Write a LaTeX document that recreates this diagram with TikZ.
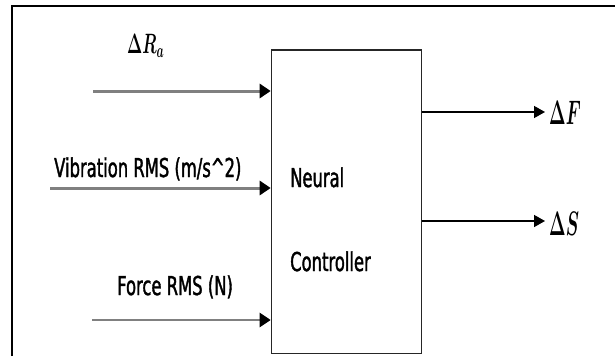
\RequirePackage{fix-cm}
\documentclass[tikz,border=0pt]{standalone}
\usepackage{amsmath}
\usepackage{fontspec}
\usepackage{graphicx}
\setmainfont{DejaVu Sans}[FakeStretch=0.63, FakeBold=1.4]
\usetikzlibrary{arrows.meta}

\begin{document}
\begin{tikzpicture}[
  x=1pt, y=-1pt,
  every node/.style={font=\fontsize{26}{28}\selectfont},
  block/.style={draw=black!85, line width=1.6pt, minimum width=150pt, minimum height=303.5pt, inner sep=0pt},
  inarrow/.style={draw=black!50, line width=3pt, -{Triangle[length=11pt,width=14pt,color=black]}},
  outarrow/.style={draw, line width=1.5pt, -{Triangle[length=11pt,width=12pt]}},
  lbl/.style={inner sep=0pt, anchor=base west}
]
\useasboundingbox (0,0) rectangle (615,356);
\draw[line width=1.2pt] (12,356) -- (12,6) -- (615,6);

\node[block] (nc) at (346.5,201.75) {};
\node[lbl] (neural) at (290,187) {Neural};
\node[lbl] (ctrl)   at (290,271) {Controller};

% inputs
\coordinate (in1) at (93,91);
\coordinate (in2) at (50,188);
\coordinate (in3) at (92,320);
\draw[inarrow] (in1) -- (in1 -| nc.west);
\draw[inarrow] (in2) -- (in2 -| nc.west);
\draw[inarrow, line width=2.5pt] (in3) -- (in3 -| nc.west);
\node[lbl, font=\fontsize{28}{30}\selectfont] (dra) at (127,53) {\scalebox{0.58}[1]{$\boldsymbol{\Delta R_a}$}};
\node[lbl] (vib)   at (54,177)  {Vibration RMS (m/s\^{}2)};
\node[lbl] (force) at (117,295) {Force RMS (N)};

% outputs
\coordinate (out1) at (545,112);
\coordinate (out2) at (545,221);
\draw[outarrow] (out1 -| nc.east) -- (out1);
\draw[outarrow] (out2 -| nc.east) -- (out2);
\node[lbl, font=\fontsize{34}{36}\selectfont] (df) at (549,124) {\scalebox{0.52}[1]{$\boldsymbol{\Delta F}$}};
\node[lbl, font=\fontsize{34}{36}\selectfont] (ds) at (549,235) {\scalebox{0.52}[1]{$\boldsymbol{\Delta S}$}};
\end{tikzpicture}
\end{document}
